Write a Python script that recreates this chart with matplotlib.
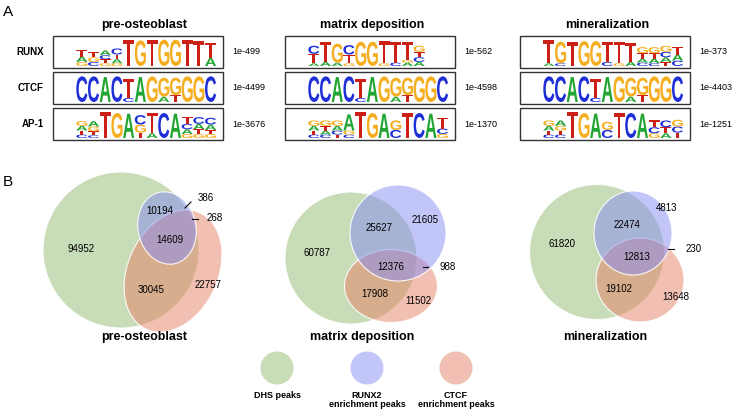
"""
Motif logos (panel A) and peak-overlap Venn diagrams (panel B) for three
osteoblast differentiation stages.
"""
import re
import matplotlib
matplotlib.use("Agg")
import matplotlib.pyplot as plt
from matplotlib.patches import Rectangle, Ellipse, Circle, PathPatch
from matplotlib.textpath import TextPath
from matplotlib.font_manager import FontProperties
from matplotlib.transforms import Affine2D

plt.rcParams["font.family"] = ["Liberation Sans", "DejaVu Sans"]

# ---- data -----------------------------------------------------------------
STAGES = ["pre-osteoblast", "matrix deposition", "mineralization"]
MOTIF_NAMES = ["RUNX", "CTCF", "AP-1"]

# motif columns, letters listed top to bottom, heights in 1/100 bit
RUNX_PRE = ["T45A40G30", "T40G35C30", "A35C30T30G20", "C45T35A30G20", "T190", "G190",
            "T190", "G195", "G195", "T190", "T185", "T110A60"]
RUNX_MAT = ["C60T70A20", "T150A30", "G140A25", "C70T65G20", "G180", "G180",
            "T165G20", "T155C25", "T130G20A25", "G45T40C35A30"]
RUNX_MIN = ["T170A20", "G160C20", "T180", "G185", "G185", "T150C30", "T160G20",
            "T140A30", "G45T40A30C25", "G45T40A35C20", "G45C40A35T30", "T55A45C40"]
CTCF_ALL = ["C190", "C190", "A185", "C190", "T140C30", "A185", "G190", "G140A40",
            "G130T50", "G190", "G190", "C190"]
AP1_PRE = ["G35A35T30C25", "A40G35T30C20", "T190", "G185", "A180", "C70G60T40",
           "T150A35", "C185", "A180", "T50C40A35G30", "C50A40T35G30", "C50A40T30G30"]
AP1_MAT = ["G40A35T30C25", "G40T35A30C25", "G40A35C30T25", "A120G30C25", "T190",
           "G185", "A180", "G70C60", "T185", "C185", "A180", "T80C40G30"]
AP1_MIN = ["G40A35T30C25", "A40G35T30C25", "T190", "G185", "A180", "G60C60", "T185",
           "C185", "A180", "T50C45G35", "C50T45A35", "G50C45T40"]

MOTIFS = [[RUNX_PRE, RUNX_MAT, RUNX_MIN],
          [CTCF_ALL, CTCF_ALL, CTCF_ALL],
          [AP1_PRE, AP1_MAT, AP1_MIN]]
PVALUES = [["1e-499", "1e-562", "1e-373"],
           ["1e-4499", "1e-4598", "1e-4403"],
           ["1e-3676", "1e-1370", "1e-1251"]]

# Venn region counts: D=DHS, R=RUNX2, C=CTCF
REGIONS = ["D", "DR", "R", "DRC", "RC", "DC", "C"]
COUNTS_PRE = [94952, 10194, 386, 14609, 268, 30045, 22757]
COUNTS_MAT = [60787, 25627, 21605, 12376, 988, 17908, 11502]
COUNTS_MIN = [61820, 22474, 4813, 12813, 230, 19102, 13648]
SET_LABELS = ["DHS peaks", "RUNX2\nenrichment peaks", "CTCF\nenrichment peaks"]

# ---- layout / style -------------------------------------------------------
BASE_COLORS = [(0.57, 0.73, 0.44), (0.53, 0.55, 0.95), (0.90, 0.51, 0.40)]
ALPHA = 0.5
NT_COLORS = {"A": "#22a532", "C": "#1f2fd8", "G": "#f5ae20", "T": "#cc2016"}

BOX_X = [53, 285, 520]
BOX_TOP = [36, 72, 108]
BOX_W, BOX_H = 170, 32
COL_W = 11.7
BIT_PX = 13.5
TITLE_X = [144, 372, 607]

# ellipse specs (cx, cy, w, h, angle) for DHS, RUNX2, CTCF
SHAPES = [
    [(121, 250, 156, 156, 0), (167, 228, 58, 73, -12), (173, 271, 90, 128, 25)],
    [(351, 258, 132, 132, 0), (398, 233, 96, 96, 0), (391, 286, 93, 73, 0)],
    [(597, 252, 135, 135, 0), (633, 233, 78, 84, 0), (640, 280, 88, 84, 0)],
]
DRAW_ORDER = [0, 2, 1]  # DHS, then CTCF, RUNX2 on top
# label position per region, optional leader line (x0, y0, x1, y1)
LABEL_POS = [
    {"D": (81, 249), "DR": (160, 211), "R": (198, 198), "DRC": (170, 240),
     "RC": (207, 218), "DC": (151, 290), "C": (208, 285)},
    {"D": (317, 253), "DR": (379, 228), "R": (425, 220), "DRC": (391, 267),
     "RC": (439, 267), "DC": (375, 294), "C": (418, 301)},
    {"D": (562, 244), "DR": (627, 225), "R": (667, 208), "DRC": (637, 257),
     "RC": (686, 249), "DC": (619, 289), "C": (676, 297)},
]
LEADERS = [
    {"R": (185, 208, 191, 202), "RC": (192, 219, 198, 219)},
    {"RC": (423, 267, 428, 267)},
    {"RC": (668, 249, 674, 249)},
]
VENN_TITLE_X = [144, 362, 605]

# ---- helpers --------------------------------------------------------------
LOGO_FONT = FontProperties(family="Liberation Sans", weight="bold")
_glyphs = {}


def glyph(ch):
    if ch not in _glyphs:
        p = TextPath((0, 0), ch, size=1, prop=LOGO_FONT)
        _glyphs[ch] = (p, p.get_extents())
    return _glyphs[ch]


def draw_letter(ax, ch, x, y_bottom, w, h):
    p, e = glyph(ch)
    t = (Affine2D().translate(-e.x0, -e.y0)
         .scale(w / e.width, -h / e.height).translate(x, y_bottom))
    ax.add_patch(PathPatch(t.transform_path(p), fc=NT_COLORS[ch], ec="none"))


def draw_logo(ax, columns, x0, baseline):
    for i, col in enumerate(columns):
        stack = [(c, int(v) / 100) for c, v in re.findall(r"([ACGT])(\d+)", col)]
        y = baseline
        for ch, bits in reversed(stack):
            h = bits * BIT_PX
            draw_letter(ax, ch, x0 + i * COL_W + 0.3, y, COL_W - 0.6, h)
            y -= h


def rgba(i):
    return (*BASE_COLORS[i], ALPHA)


# ---- figure ---------------------------------------------------------------
fig = plt.figure(figsize=(7.34, 4.11), dpi=100)
ax = fig.add_axes([0, 0, 1, 1])
ax.set_xlim(0, 734)
ax.set_ylim(411, 0)
ax.axis("off")

# panel A
ax.text(3, 12, "A", fontsize=11, va="center", ha="left")
for c, stage in enumerate(STAGES):
    ax.text(TITLE_X[c], 25, stage, fontsize=9, fontweight="bold", ha="center", va="center")
    for r in range(len(MOTIF_NAMES)):
        top = BOX_TOP[r]
        ax.add_patch(Rectangle((BOX_X[c], top), BOX_W, BOX_H, fill=False,
                               ec="#333333", lw=1.0))
        draw_logo(ax, MOTIFS[r][c], BOX_X[c] + 23, top + BOX_H - 2)
        ax.text(BOX_X[c] + BOX_W + 9, top + BOX_H / 2, PVALUES[r][c], fontsize=6.5,
                ha="left", va="center")
for r, name in enumerate(MOTIF_NAMES):
    ax.text(44, BOX_TOP[r] + BOX_H / 2, name, fontsize=7, fontweight="bold",
            ha="right", va="center")

# panel B
ax.text(3, 182, "B", fontsize=11, va="center", ha="left")
all_counts = [COUNTS_PRE, COUNTS_MAT, COUNTS_MIN]
for s, counts in enumerate(all_counts):
    for i in DRAW_ORDER:
        cx, cy, w, h, ang = SHAPES[s][i]
        ax.add_patch(Ellipse((cx, cy), w, h, angle=ang, fc=rgba(i),
                             ec=(1, 1, 1, 0.9), lw=0.8))
    for key, val in zip(REGIONS, counts):
        x, y = LABEL_POS[s][key]
        if key in LEADERS[s]:
            x0, y0, x1, y1 = LEADERS[s][key]
            ax.plot([x0, x1], [y0, y1], color="black", lw=0.8)
            ax.text(x, y, str(val), fontsize=7, ha="left", va="center")
        else:
            ax.text(x, y, str(val), fontsize=7, ha="center", va="center")
    ax.text(VENN_TITLE_X[s], 337, STAGES[s], fontsize=9, fontweight="bold",
            ha="center", va="center")

# legend
for i, (lx, label) in enumerate(zip([277, 367, 456], SET_LABELS)):
    ax.add_patch(Circle((lx, 368), 16.5, fc=rgba(i), ec="none"))
    ax.text(lx, 391, label, fontsize=6.5, fontweight="bold", ha="center", va="top",
            linespacing=1.05)

fig.savefig("out.png", dpi=100)
